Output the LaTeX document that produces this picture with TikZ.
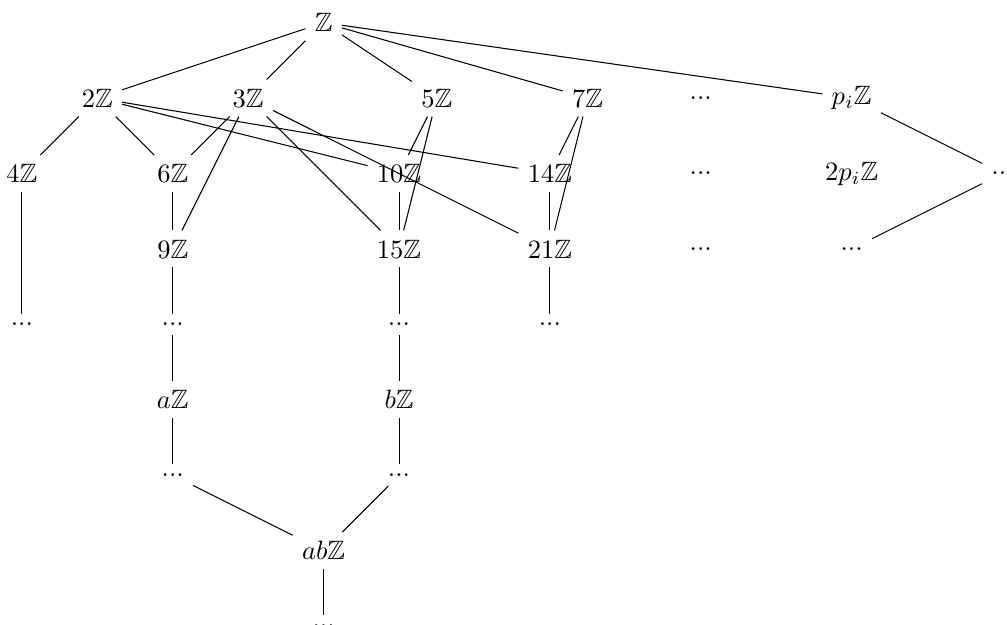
\documentclass[tikz,border=0pt]{standalone}
\usepackage{amssymb}
\begin{document}
\begin{tikzpicture}[grp/.style={inner sep=3.33pt}, gap/.style={inner sep=3.33pt}]
    \useasboundingbox (-0.29,0.30) rectangle (13.06,-7.985);
    % rows of the lattice
    \node[grp] (z) at (4,0) {$\mathbb{Z}$};
    \node[grp] (z2) at (1,-1) {$2\mathbb{Z}$};
    \node[grp] (z3) at (3,-1) {$3\mathbb{Z}$};
    \node[grp] (z5) at (5.5,-1) {$5\mathbb{Z}$};
    \node[grp] (z7) at (7.5,-1) {$7\mathbb{Z}$};
    \node[gap] (dA) at (9,-1) {...};
    \node[grp] (zp) at (11,-1) {$p_i\mathbb{Z}$};
    \node[grp] (z4) at (0,-2) {$4\mathbb{Z}$};
    \node[grp] (z6) at (2,-2) {$6\mathbb{Z}$};
    \node[grp] (z10) at (5,-2) {$10\mathbb{Z}$};
    \node[grp] (z14) at (7,-2) {$14\mathbb{Z}$};
    \node[gap] (dB) at (9,-2) {...};
    \node[grp] (z2p) at (11,-2) {$2p_i\mathbb{Z}$};
    \node[gap] (dR) at (13,-2) {...};
    \node[grp] (z9) at (2,-3) {$9\mathbb{Z}$};
    \node[grp] (z15) at (5,-3) {$15\mathbb{Z}$};
    \node[grp] (z21) at (7,-3) {$21\mathbb{Z}$};
    \node[gap] (dC) at (9,-3) {...};
    \node[gap] (dD) at (11,-3) {...};
    \node[gap] (d4) at (0,-4) {...};
    \node[gap] (d9) at (2,-4) {...};
    \node[gap] (d15) at (5,-4) {...};
    \node[gap] (d21) at (7,-4) {...};
    \node[grp] (za) at (2,-5) {$a\mathbb{Z}$};
    \node[grp] (zb) at (5,-5) {$b\mathbb{Z}$};
    \node[gap] (da) at (2,-6) {...};
    \node[gap] (db) at (5,-6) {...};
    \node[grp] (zab) at (4,-7) {$ab\mathbb{Z}$};
    \node[gap] (dab) at (4,-8) {...};
    % inclusions
    \draw (z) -- (z2);
    \draw (z) -- (z3);
    \draw (z) -- (z5);
    \draw (z) -- (z7);
    \draw (z) -- (zp);
    \draw (z2) -- (z4);
    \draw (z2) -- (z6);
    \draw (z2) -- (z10);
    \draw (z2) -- (z14);
    \draw (z3) -- (z6);
    \draw (z3) -- (z9);
    \draw (z3) -- (z15);
    \draw (z3) -- (z21);
    \draw (z5) -- (z10);
    \draw (z5) -- (z15);
    \draw (z7) -- (z14);
    \draw (z7) -- (z21);
    \draw (zp) -- (dR);
    \draw (dR) -- (dD);
    \draw (z4) -- (d4);
    \draw (z6) -- (z9);
    \draw (z9) -- (d9);
    \draw (z10) -- (z15);
    \draw (z15) -- (d15);
    \draw (z14) -- (z21);
    \draw (z21) -- (d21);
    \draw (d9) -- (za);
    \draw (za) -- (da);
    \draw (d15) -- (zb);
    \draw (zb) -- (db);
    \draw (da) -- (zab);
    \draw (db) -- (zab);
    \draw (zab) -- (dab);
\end{tikzpicture}
\end{document}
